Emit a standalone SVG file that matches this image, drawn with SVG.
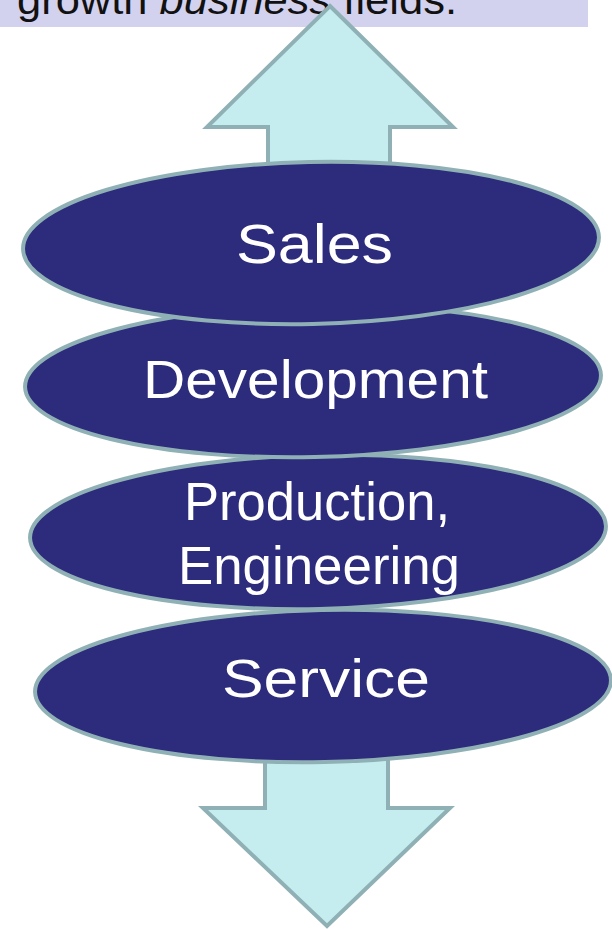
<svg xmlns="http://www.w3.org/2000/svg" width="612" height="929" viewBox="0 0 612 929">
  <style>
    .band { fill: #d2d2ef; }
    .arrow { fill: #c5edf0; stroke: #8fb1b5; stroke-width: 4; stroke-linejoin: miter; }
    .disc { fill: #2c2b7c; stroke: #8fb1b5; stroke-width: 4; }
    .lbl { font-family: "Liberation Sans", Arial, sans-serif; fill: #ffffff; font-size: 54px; }
    .cap { font-family: "Liberation Sans", Arial, sans-serif; fill: #111111; font-size: 40px; }
  </style>
  <rect width="612" height="929" fill="#ffffff"/>

  <!-- caption strip, cut off at the top edge -->
  <g id="caption">
    <rect class="band" x="0" y="0" width="588" height="27"/>
    <text class="cap" x="17" y="14" textLength="440" lengthAdjust="spacingAndGlyphs">growth <tspan font-style="italic">business</tspan> fields.</text>
  </g>

  <!-- block arrows above and below the stack -->
  <g id="arrows">
    <polygon class="arrow" points="330,6 453,127 390,127 390,175 268,175 268,127 207,127"/>
    <polygon class="arrow" points="265,750 388,750 388,808 450,808 327,926 203,808 265,808"/>
  </g>

  <!-- stacked discs, drawn bottom-up so each upper disc overlaps the one below -->
  <g id="service">
    <ellipse class="disc" cx="323" cy="686" rx="288" ry="76" transform="rotate(-1.2 323 686)"/>
    <text class="lbl" x="222" y="697" textLength="208" lengthAdjust="spacingAndGlyphs">Service</text>
  </g>
  <g id="production">
    <ellipse class="disc" cx="318" cy="532" rx="288" ry="77" transform="rotate(-1.2 318 532)"/>
    <text class="lbl" x="184" y="520" textLength="266" lengthAdjust="spacingAndGlyphs">Production,</text>
    <text class="lbl" x="178" y="584" textLength="282" lengthAdjust="spacingAndGlyphs">Engineering</text>
  </g>
  <g id="development">
    <ellipse class="disc" cx="313" cy="381" rx="288" ry="76" transform="rotate(-1.2 313 381)"/>
    <text class="lbl" x="143" y="398" textLength="345" lengthAdjust="spacingAndGlyphs">Development</text>
  </g>
  <g id="sales">
    <ellipse class="disc" cx="311" cy="243" rx="288" ry="81" transform="rotate(-1.2 311 243)"/>
    <text class="lbl" x="236" y="263" font-size="56" textLength="157" lengthAdjust="spacingAndGlyphs" style="font-size:56px">Sales</text>
  </g>
</svg>
